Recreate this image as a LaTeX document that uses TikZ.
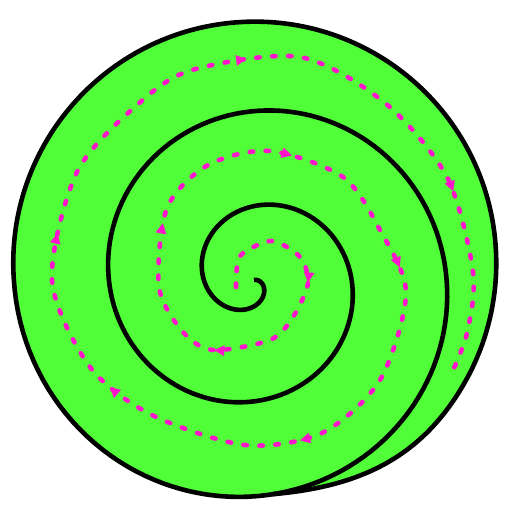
\documentclass[tikz,border=0pt]{standalone}
\usetikzlibrary{arrows.meta,decorations.markings}
\definecolor{domaingreen}{RGB}{80,255,55}
\definecolor{pathpink}{RGB}{255,20,204}
\tikzset{
  spiralline/.style={line width=4.6pt, black},
  flowline/.style={pathpink, line width=4.6pt, line cap=round, dash pattern=on 3.5pt off 12.5pt},
  flowtip/.tip={Triangle[length=10.5pt,width=10pt]},
  flowarrows/.style={postaction={decorate}, decoration={markings,
    mark=at position 0.062 with {\arrow{flowtip}},
    mark=at position 0.124 with {\arrow{flowtip}},
    mark=at position 0.198 with {\arrow{flowtip}},
    mark=at position 0.277 with {\arrow{flowtip}},
    mark=at position 0.356 with {\arrow{flowtip}},
    mark=at position 0.463 with {\arrow{flowtip}},
    mark=at position 0.562 with {\arrow{flowtip}},
    mark=at position 0.645 with {\arrow{flowtip}},
    mark=at position 0.779 with {\arrow{flowtip}},
    mark=at position 0.907 with {\arrow{flowtip}}}}
}
\begin{document}
\begin{tikzpicture}[x=1pt,y=1pt]
\useasboundingbox (0,0) rectangle (512,512);
\coordinate (eye) at (254,232);
\coordinate (junction) at (13.86,232);
\coordinate (merge) at (272.7,17.8);
\fill[domaingreen, shift={(eye)}] plot[domain=815:910, samples=40] ({0.26389*\x*cos(10-\x)}, {0.26389*\x*sin(10-\x)})
  arc[start angle=184, end angle=-30, radius=241.5] to[out=-120, in=5] (merge) -- cycle;
\draw[flowline, flowarrows] plot[smooth] coordinates {(236,225) (237,245) (243,259) (272,271) (300,255) (308,229) (293,195) (270,172) (213,162) (183,180) (159,225) (167,304) (208,347) (270,361) (343,335) (380,282) (406,219) (380,132) (322,79) (245,67) (152,97) (90,145) (52,232) (77,340) (137,407) (192,442) (300,455) (385,409) (447,335) (473,240) (467,179) (450,135)};
\draw[spiralline, shift={(eye)}] plot[domain=0:910, samples=360] ({0.26389*\x*cos(10-\x)}, {0.26389*\x*sin(10-\x)});
\draw[spiralline] (junction) arc[start angle=184, end angle=-30, radius=241.5] to[out=-120, in=5] (merge);
\end{tikzpicture}
\end{document}
